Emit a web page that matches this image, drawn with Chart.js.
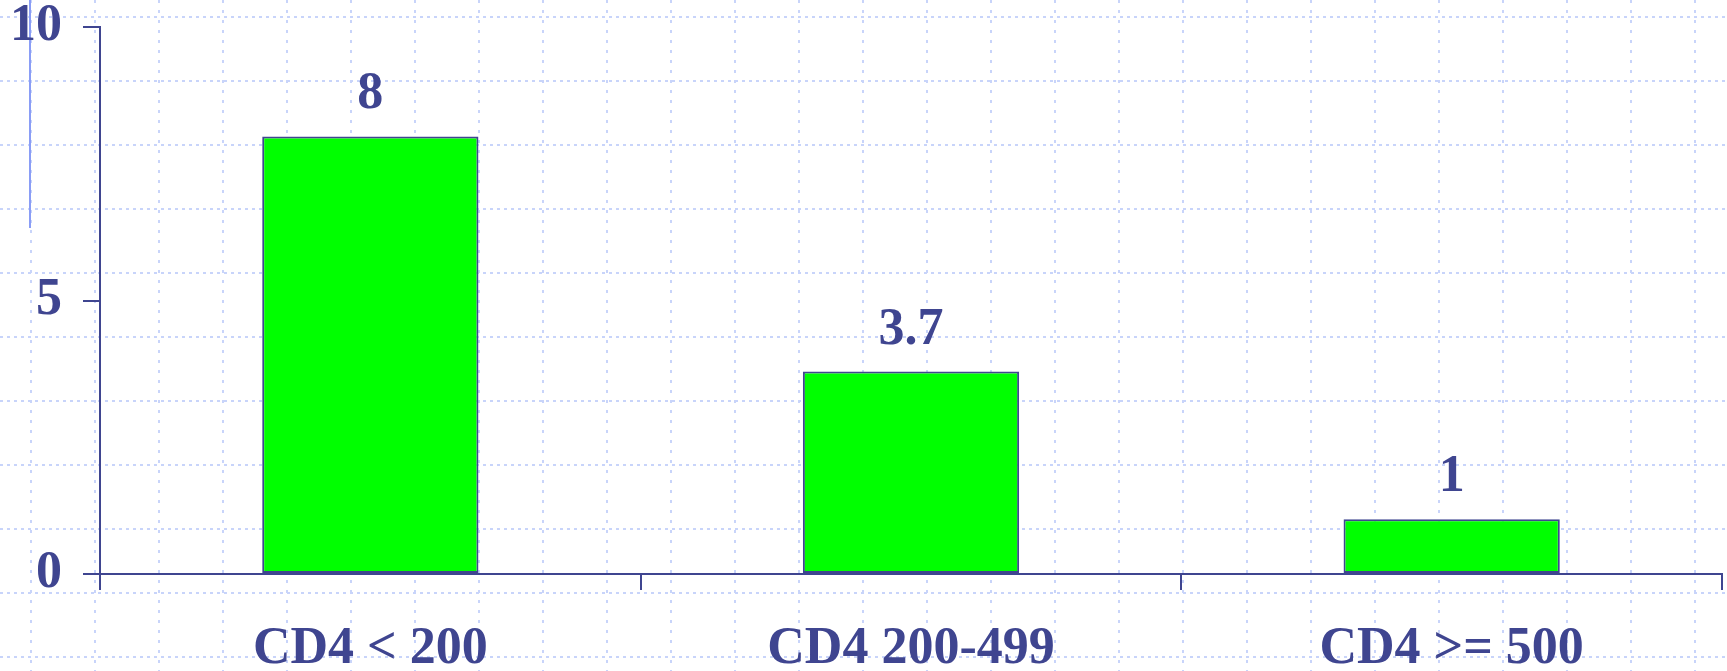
<!DOCTYPE html>
<html>
<head>
<meta charset="utf-8">
<script src="https://cdn.jsdelivr.net/npm/chart.js@4/dist/chart.umd.min.js"></script>
<style>
  html, body { margin: 0; padding: 0; background: #ffffff; }
  #wrap { width: 1727px; height: 671px; position: relative; }
</style>
</head>
<body>
<div id="wrap"><canvas id="c" width="1727" height="671"></canvas></div>
<script>
const categories = ["CD4 < 200", "CD4 200-499", "CD4 >= 500"];
const values = [8, 3.7, 1];
const valueLabels = ["8", "3.7", "1"];
const yTicks = [0, 5, 10];

const INK = '#3f4590';
const FONT = '"Liberation Serif", "Times New Roman", serif';

const backgroundPlugin = {
  id: 'bg',
  beforeDraw(chart) {
    const ctx = chart.ctx;
    const W = chart.width, H = chart.height;
    ctx.save();
    ctx.fillStyle = '#ffffff';
    ctx.fillRect(0, 0, W, H);
    ctx.strokeStyle = '#c8d4fa';
    ctx.lineWidth = 2;
    ctx.setLineDash([3, 7]);
    for (let x = 31; x < W; x += 64) {
      ctx.beginPath(); ctx.moveTo(x, 0); ctx.lineTo(x, H); ctx.stroke();
    }
    ctx.setLineDash([3, 4]);
    for (let y = 17; y < H; y += 64) {
      ctx.beginPath(); ctx.moveTo(0, y); ctx.lineTo(W, y); ctx.stroke();
    }
    ctx.setLineDash([]);
    ctx.strokeStyle = '#8a9df6';
    ctx.lineWidth = 2;
    ctx.beginPath(); ctx.moveTo(30, 0); ctx.lineTo(30, 228); ctx.stroke();
    ctx.restore();
  }
};

const valueLabelPlugin = {
  id: 'valueLabels',
  afterDatasetsDraw(chart) {
    const ctx = chart.ctx;
    const meta = chart.getDatasetMeta(0);
    ctx.save();
    ctx.fillStyle = INK;
    ctx.font = 'bold 52px ' + FONT;
    ctx.textAlign = 'center';
    ctx.textBaseline = 'alphabetic';
    meta.data.forEach((bar, i) => {
      ctx.fillText(valueLabels[i], bar.x, bar.y - 28);
    });
    ctx.restore();
  }
};

new Chart(document.getElementById('c'), {
  type: 'bar',
  data: {
    labels: categories,
    datasets: [{
      data: values,
      backgroundColor: '#00ff00',
      borderColor: INK,
      borderWidth: 2,
      borderSkipped: false,
      barPercentage: 0.4,
      categoryPercentage: 1.0
    }]
  },
  options: {
    responsive: false,
    animation: false,
    devicePixelRatio: 1,
    layout: { padding: { left: 0, top: 27, right: 5, bottom: 0 } },
    plugins: { legend: { display: false }, tooltip: { enabled: false } },
    scales: {
      x: {
        offset: true,
        grid: { display: true, drawOnChartArea: false, offset: true, tickLength: 16, color: INK, lineWidth: 2 },
        border: { display: true, color: INK, width: 2 },
        ticks: { color: INK, font: { family: FONT, size: 52, weight: 'bold', lineHeight: 1 }, padding: 34, maxRotation: 0, autoSkip: false },
        afterFit(scale) { scale.height = 97; scale.paddingLeft = 0; scale.paddingRight = 0; }
      },
      y: {
        min: 0, max: 10,
        afterBuildTicks(scale) { scale.ticks = yTicks.map(v => ({ value: v })); },
        grid: { display: true, drawOnChartArea: false, tickLength: 17, color: INK, lineWidth: 2 },
        border: { display: true, color: INK, width: 2 },
        ticks: { color: INK, font: { family: FONT, size: 52, weight: 'bold', lineHeight: 1 }, padding: 21 },
        afterFit(scale) { scale.width = 100; scale.paddingTop = 0; scale.paddingBottom = 0; }
      }
    }
  },
  plugins: [backgroundPlugin, valueLabelPlugin]
});
</script>
</body>
</html>
